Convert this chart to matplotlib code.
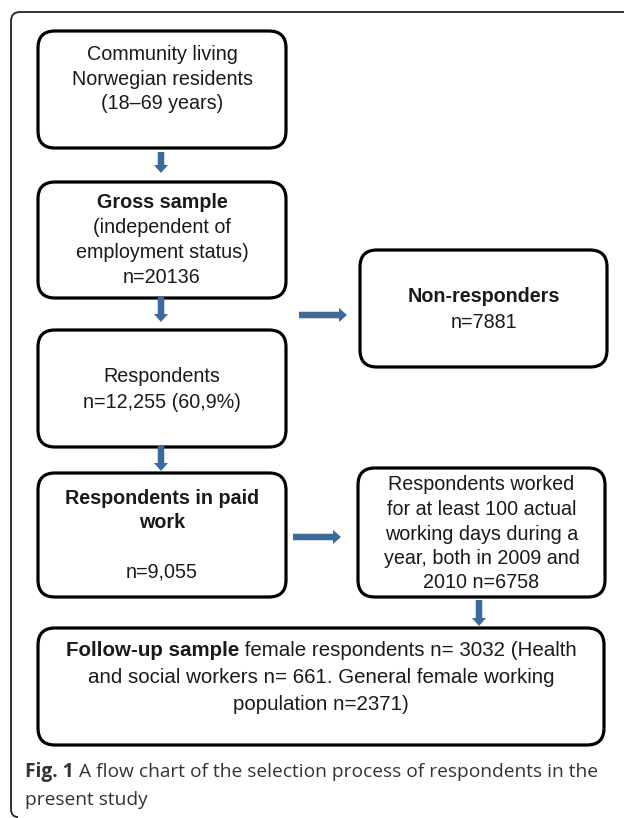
import matplotlib
matplotlib.use("Agg")
from matplotlib import pyplot as plt
from matplotlib.patches import FancyBboxPatch, FancyArrow, PathPatch
from matplotlib.path import Path

W, H = 624, 818

# box texts: each line is a list of (text, bold) segments
box_lines = [
    [[("Community living", False)], [("Norwegian residents", False)], [("(18\u201369 years)", False)]],
    [[("Gross sample", True)], [("(independent of", False)], [("employment status)", False)],
     [("n=20136", False)]],
    [[("Respondents", False)], [("n=12,255 (60,9%)", False)]],
    [[("Non-responders", True)], [("n=7881", False)]],
    [[("Respondents in paid", True)], [("work", True)], [], [("n=9,055", False)]],
    [[("Respondents worked", False)], [("for at least 100 actual", False)],
     [("working days during a", False)], [("year, both in 2009 and", False)],
     [("2010 n=6758", False)]],
    [[("Follow-up sample", True), (" female respondents n= 3032 (Health", False)],
     [("and social workers n= 661. General female working", False)],
     [("population n=2371)", False)]],
]

# layout: (left, top, right, bottom) in pixels, first text line y, line pitch, font size
box_rects = [
    (38, 31, 286, 148), (38, 182, 286, 298), (38, 330, 286, 447),
    (360, 250, 607, 367), (38, 473, 286, 597), (358, 468, 605, 597),
    (38, 628, 604, 745),
]
first_line = [55, 203, 377, 296, 498, 485, 651]
pitch = [24.2, 24.8, 25, 26, 24.7, 24.5, 26.5]
font_size = [14.2, 14.2, 14.2, 14.2, 14.2, 14.2, 14.8]

# arrows: (x0, y0, x1, y1)
arrows = [
    (161, 152, 161, 173), (161, 297, 161, 322), (161, 446, 161, 471),
    (299, 315, 347, 315), (293, 537, 341, 537), (479, 600, 479, 626),
]

caption = [[("Fig. 1", True), (" A flow chart of the selection process of respondents in the", False)],
           [("present study", False)]]

fig = plt.figure(figsize=(W / 100, H / 100), dpi=100)
ax = fig.add_axes([0, 0, 1, 1])
ax.set_xlim(0, W)
ax.set_ylim(H, 0)
ax.axis("off")
renderer = fig.canvas.get_renderer()


def draw_line(segs, x, y, family, size, color, align="center"):
    texts = []
    for s, b in segs:
        t = ax.text(0, y, s, family=family, fontsize=size, color=color,
                    fontweight="bold" if b else "normal", ha="left", va="center")
        texts.append(t)
    widths = [t.get_window_extent(renderer).width for t in texts]
    start = x - sum(widths) / 2 if align == "center" else x
    for t, w in zip(texts, widths):
        t.set_x(start)
        start += w


# outer frame
verts = [(W, 12), (20, 12), (11, 12), (11, 21), (11, 809), (11, 817), (18, 817)]
codes = [Path.MOVETO, Path.LINETO, Path.CURVE3, Path.CURVE3, Path.LINETO, Path.CURVE3, Path.CURVE3]
ax.add_patch(PathPatch(Path(verts, codes), fill=False, lw=1.3, edgecolor="#222222"))

for (l, t, r, b), lines, y0, p, fs in zip(box_rects, box_lines, first_line, pitch, font_size):
    ax.add_patch(FancyBboxPatch((l, t), r - l, b - t,
                                boxstyle="round,pad=0,rounding_size=17",
                                fill=False, lw=2.3, edgecolor="black"))
    for i, segs in enumerate(lines):
        if segs:
            draw_line(segs, (l + r) / 2, y0 + i * p, "Liberation Sans", fs, "#1a1a1a")

for x0, y0, x1, y1 in arrows:
    ax.add_patch(FancyArrow(x0, y0, x1 - x0, y1 - y0, width=6.5, head_width=14,
                            head_length=8, length_includes_head=True,
                            color="#3d6a9a", lw=0))

for i, segs in enumerate(caption):
    draw_line(segs, 25, 772 + i * 28, "Open Sans", 13.8, "#333333", align="left")

fig.savefig("out.png", dpi=100)
